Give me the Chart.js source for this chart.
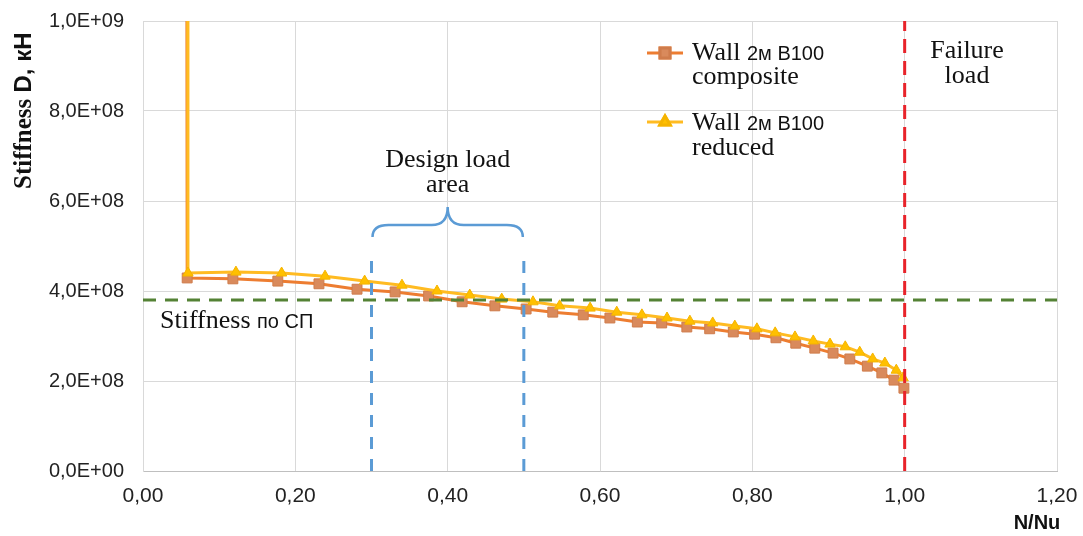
<!DOCTYPE html>
<html>
<head>
<meta charset="utf-8">
<script src="https://cdn.jsdelivr.net/npm/chart.js@4.4.0/dist/chart.umd.min.js"></script>
<style>
  body { margin: 0; background: #fff; }
  #wrap { width: 1083px; height: 536px; }
</style>
</head>
<body>
<div id="wrap"><canvas id="grafico" width="1083" height="536"></canvas></div>
<script>
// DATOS

const nuComposite = [0.057, 0.058, 0.118, 0.177, 0.231, 0.281, 0.331, 0.375, 0.419, 0.462, 0.503,
  0.538, 0.578, 0.613, 0.649, 0.681, 0.714, 0.744, 0.775, 0.803, 0.831, 0.857, 0.882,
  0.906, 0.928, 0.951, 0.970, 0.986, 0.999];
const dComposite = [2.0e9, 4.29e8, 4.27e8, 4.22e8, 4.16e8, 4.04e8, 3.98e8, 3.89e8, 3.76e8, 3.67e8, 3.60e8,
  3.53e8, 3.47e8, 3.40e8, 3.31e8, 3.29e8, 3.20e8, 3.16e8, 3.09e8, 3.04e8, 2.96e8, 2.84e8, 2.73e8,
  2.62e8, 2.49e8, 2.33e8, 2.18e8, 2.02e8, 1.84e8];

const nuReduced = [0.058, 0.059, 0.122, 0.182, 0.239, 0.291, 0.340, 0.386, 0.429, 0.471, 0.512,
  0.547, 0.587, 0.622, 0.655, 0.688, 0.718, 0.748, 0.777, 0.806, 0.830, 0.856, 0.880,
  0.902, 0.922, 0.941, 0.958, 0.974, 0.989, 0.998];
const dReduced = [2.0e9, 4.40e8, 4.42e8, 4.40e8, 4.33e8, 4.22e8, 4.13e8, 4.00e8, 3.91e8, 3.82e8, 3.76e8,
  3.67e8, 3.62e8, 3.53e8, 3.47e8, 3.40e8, 3.33e8, 3.29e8, 3.22e8, 3.16e8, 3.07e8, 2.98e8, 2.89e8,
  2.82e8, 2.76e8, 2.64e8, 2.49e8, 2.40e8, 2.24e8, 2.07e8];

// lineas de referencia
const rigidezSP = 3.8e8;          // Stiffness по СП
const cargaRotura = 1.0;          // Failure load
const zonaDiseno = [0.30, 0.50];  // Design load area
const alturaZona = 4.85e8;

const xTicks = [0, 0.2, 0.4, 0.6, 0.8, 1.0, 1.2];
const yTicks = [0, 2e8, 4e8, 6e8, 8e8, 1e9];

const SERIF = "'Liberation Serif', 'Times New Roman', serif";
const SANS = "'Liberation Sans', Arial, sans-serif";

const toXY = (xs, ys) => xs.map((x, i) => ({ x: x, y: ys[i] }));

function fmtExp(v) {
  if (v === 0) return '0,0E+00';
  const e = Math.floor(Math.log10(v) + 1e-9);
  const m = (v / Math.pow(10, e)).toFixed(1).replace('.', ',');
  return m + 'E+' + String(e).padStart(2, '0');
}

// textos con varias fuentes en una linea
function textoMixto(ctx, partes, x, y, align) {
  let total = 0;
  partes.forEach(p => { ctx.font = p.font; total += ctx.measureText(p.t).width; });
  let cx = align === 'center' ? x - total / 2 : x;
  partes.forEach(p => {
    ctx.font = p.font;
    ctx.textAlign = 'left';
    ctx.fillText(p.t, cx, y);
    cx += ctx.measureText(p.t).width;
  });
}

const anotaciones = {
  id: 'anotaciones',
  afterDatasetsDraw(chart) {
    const ctx = chart.ctx;
    const xs = chart.scales.x;
    ctx.save();

    // llave "Design load area"
    const x0 = xs.getPixelForValue(zonaDiseno[0]) + 1;
    const x1 = xs.getPixelForValue(zonaDiseno[1]) - 1;
    const xc = (x0 + x1) / 2;
    const yEnd = 237, yMid = 225, yTip = 207, r = 16;
    ctx.strokeStyle = '#5b9bd5';
    ctx.lineWidth = 2.5;
    ctx.beginPath();
    ctx.moveTo(x0, yEnd);
    ctx.quadraticCurveTo(x0, yMid, x0 + r, yMid);
    ctx.lineTo(xc - r, yMid);
    ctx.quadraticCurveTo(xc, yMid, xc, yTip);
    ctx.quadraticCurveTo(xc, yMid, xc + r, yMid);
    ctx.lineTo(x1 - r, yMid);
    ctx.quadraticCurveTo(x1, yMid, x1, yEnd);
    ctx.stroke();

    ctx.fillStyle = '#111';
    ctx.textBaseline = 'alphabetic';
    const serif26 = '26px ' + SERIF;
    const sans20 = '20px ' + SANS;

    textoMixto(ctx, [{ t: 'Design load', font: serif26 }], xc, 167, 'center');
    textoMixto(ctx, [{ t: 'area', font: serif26 }], xc, 192, 'center');

    textoMixto(ctx, [{ t: 'Failure', font: serif26 }], 967, 58, 'center');
    textoMixto(ctx, [{ t: 'load', font: serif26 }], 967, 83, 'center');

    textoMixto(ctx, [{ t: 'Stiffness ', font: serif26 }, { t: 'по СП', font: sans20 }], 160, 328, 'left');

    // leyenda
    const leyenda = [
      { ds: chart.data.datasets[0], y: 53, l1: 60, l2: 84, txt: 'composite' },
      { ds: chart.data.datasets[1], y: 122, l1: 130, l2: 155, txt: 'reduced' }
    ];
    leyenda.forEach(e => {
      ctx.strokeStyle = e.ds.borderColor;
      ctx.lineWidth = 3;
      ctx.beginPath();
      ctx.moveTo(647, e.y);
      ctx.lineTo(683, e.y);
      ctx.stroke();
      Chart.helpers.drawPoint(ctx, {
        pointStyle: e.ds.pointStyle,
        radius: e.ds.pointRadius,
        borderWidth: 1
      }, 665, e.y);
      ctx.fillStyle = e.ds.pointBackgroundColor;
      ctx.strokeStyle = e.ds.pointBorderColor;
      ctx.fill();
      ctx.stroke();
      ctx.fillStyle = '#111';
      textoMixto(ctx, [{ t: 'Wall ', font: serif26 }, { t: '2м B100', font: sans20 }], 692, e.l1, 'left');
      textoMixto(ctx, [{ t: e.txt, font: serif26 }], 692, e.l2, 'left');
    });

    // titulos de ejes
    ctx.save();
    ctx.translate(31, 189);
    ctx.rotate(-Math.PI / 2);
    ctx.fillStyle = '#111';
    textoMixto(ctx, [{ t: 'Stiffness ', font: 'bold 25px ' + SERIF }, { t: 'D, кН', font: 'bold 24px ' + SANS }], 0, 0, 'left');
    ctx.restore();

    ctx.fillStyle = '#111';
    textoMixto(ctx, [{ t: 'N/Nu', font: 'bold 20px ' + SANS }], 1037, 529, 'center');

    ctx.restore();
  }
};

const ctx = document.getElementById('grafico').getContext('2d');
const grafico = new Chart(ctx, {
  type: 'line',
  data: {
    datasets: [
      {
        label: 'Wall 2м B100 composite',
        data: toXY(nuComposite, dComposite),
        borderColor: '#ed7d31',
        borderWidth: 3,
        pointStyle: 'rect',
        pointRadius: 7,
        pointBackgroundColor: '#d98a5c',
        pointBorderColor: '#cf7c4c',
        pointBorderWidth: 1,
        order: 2
      },
      {
        label: 'Wall 2м B100 reduced',
        data: toXY(nuReduced, dReduced),
        borderColor: '#ffbb22',
        borderWidth: 3,
        pointStyle: 'triangle',
        pointRadius: 6,
        pointBackgroundColor: '#ffc000',
        pointBorderColor: '#f5b400',
        pointBorderWidth: 1,
        order: 1
      },
      {
        label: 'Stiffness по СП',
        data: [{ x: 0, y: rigidezSP }, { x: 1.2, y: rigidezSP }],
        borderColor: '#548235',
        borderWidth: 3,
        borderDash: [13, 9],
        pointRadius: 0,
        order: 0
      },
      {
        label: 'Failure load',
        data: [{ x: cargaRotura, y: 0 }, { x: cargaRotura, y: 1e9 }],
        borderColor: '#e8232a',
        borderWidth: 3,
        borderDash: [14, 8],
        pointRadius: 0,
        order: 0
      },
      {
        label: 'zona1',
        data: [{ x: zonaDiseno[0], y: 0 }, { x: zonaDiseno[0], y: alturaZona }],
        borderColor: '#5b9bd5',
        borderWidth: 3,
        borderDash: [12, 10],
        pointRadius: 0,
        order: 0
      },
      {
        label: 'zona2',
        data: [{ x: zonaDiseno[1], y: 0 }, { x: zonaDiseno[1], y: alturaZona }],
        borderColor: '#5b9bd5',
        borderWidth: 3,
        borderDash: [12, 10],
        pointRadius: 0,
        order: 0
      }
    ]
  },
  options: {
    responsive: false,
    animation: false,
    events: [],
    layout: { padding: { top: 21, right: 26, left: 0, bottom: 0 } },
    plugins: {
      legend: { display: false },
      tooltip: { enabled: false }
    },
    scales: {
      x: {
        type: 'linear',
        min: 0,
        max: 1.2,
        afterBuildTicks: s => { s.ticks = xTicks.map(v => ({ value: v })); },
        afterFit: s => { s.height = 65; s.paddingLeft = 0; s.paddingRight = 0; },
        grid: { color: '#d9d9d9', drawTicks: false },
        border: { color: '#bfbfbf' },
        ticks: {
          padding: 13,
          color: '#222',
          font: { family: SANS, size: 21 },
          callback: v => v.toFixed(2).replace('.', ',')
        }
      },
      y: {
        type: 'linear',
        min: 0,
        max: 1e9,
        afterBuildTicks: s => { s.ticks = yTicks.map(v => ({ value: v })); },
        afterFit: s => { s.width = 143; s.paddingTop = 0; s.paddingBottom = 0; },
        grid: { color: '#d9d9d9', drawTicks: false },
        border: { color: '#d9d9d9' },
        ticks: {
          padding: 19,
          color: '#222',
          font: { family: SANS, size: 20 },
          callback: v => fmtExp(v)
        }
      }
    }
  },
  plugins: [anotaciones]
});
</script>
</body>
</html>
